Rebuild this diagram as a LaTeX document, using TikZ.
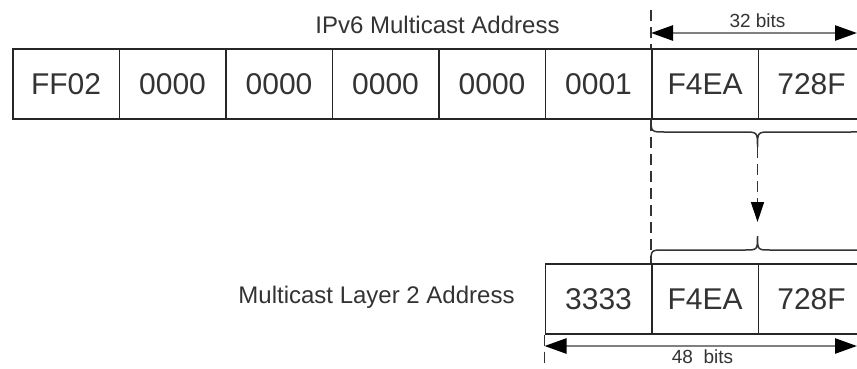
\documentclass[tikz,border=0pt]{standalone}
\usepackage{fontspec}
\setmainfont{Liberation Sans}
\usetikzlibrary{arrows.meta}
\begin{document}
\begin{tikzpicture}[x=1pt,y=-1pt,
 cell/.style={draw=black!85, line width=1.6pt, minimum width=106.5pt, minimum height=70pt, inner sep=0pt, anchor=north west, font=\fontsize{30}{30}\selectfont, text=black!80},
 lbl/.style={font=\fontsize{24}{24}\selectfont, text=black!80, inner sep=0pt, anchor=base},
 bits/.style={font=\fontsize{19}{20}\selectfont, text=black!80, inner sep=0pt, anchor=base},
 dim/.style={draw=black!50, line width=2.5pt, {Triangle[length=22pt,width=15pt,color=black]}-{Triangle[length=22pt,width=15pt,color=black]}},
 guide/.style={draw=black!80, line width=1.4pt, dash pattern=on 11pt off 6pt},
 bracepath/.style={draw=black!80, line width=1.5pt}
]
\clip (0,0) rectangle (857,368);
\fill[white] (0,0) rectangle (857,368);

% top row
\node[cell] (c1) at (12,48) {FF02};
\node[cell] (c2) at (118.5,48) {0000};
\node[cell] (c3) at (225,48) {0000};
\node[cell] (c4) at (331.5,48) {0000};
\node[cell] (c5) at (438,48) {0000};
\node[cell] (c6) at (544.5,48) {0001};
\node[cell] (c7) at (651,48) {F4EA};
\node[cell] (c8) at (757.5,48) {728F};

% bottom row
\node[cell] (b1) at (544.5,263) {3333};
\node[cell] (b2) at (651,263) {F4EA};
\node[cell] (b3) at (757.5,263) {728F};

% labels
\node[lbl] (t1) at (437.5,33) {IPv6 Multicast Address};
\node[lbl] (t2) at (376.5,303) {Multicast Layer 2 Address};
\node[bits] (l32) at (757.5,27) {32 bits};
\node[bits] (l48) at (702.5,363) {48\ \ bits};

% guide lines
\coordinate (dtop) at (651,10);
\coordinate (dbot) at (544.5,370);
\draw[guide] (dtop) -- (c7.north west);
\draw[guide] (c7.south west) -- (b2.north west);
\draw[guide] (b1.south west) -- (dbot);

% dimension arrows
\coordinate (a32l) at (651,33);
\coordinate (a32r) at (857,33);
\coordinate (a48l) at (544.5,346);
\coordinate (a48r) at (857,346);
\draw[dim] (a32l) -- (a32r);
\draw[dim] (a48l) -- (a48r);

% braces
\coordinate (ubt) at (757.5,147);
\coordinate (lbt) at (757.5,236);
\coordinate (arrend) at (757.5,222);
\draw[bracepath] (651,118) .. controls (651,132) .. (665,132) -- (743.5,132) .. controls (757.5,132) .. (ubt)
  .. controls (757.5,132) .. (771.5,132) -- (850,132) .. controls (864,132) .. (864,118);
\draw[bracepath] (651,263) .. controls (651,250) .. (664,250) -- (744.5,250) .. controls (757.5,250) .. (lbt)
  .. controls (757.5,250) .. (770.5,250) -- (851,250) .. controls (864,250) .. (864,263);

% dashed mapping arrow
\draw[guide, -{Triangle[length=20pt,width=13pt,color=black]}] (ubt) -- (arrend);
\end{tikzpicture}
\end{document}
